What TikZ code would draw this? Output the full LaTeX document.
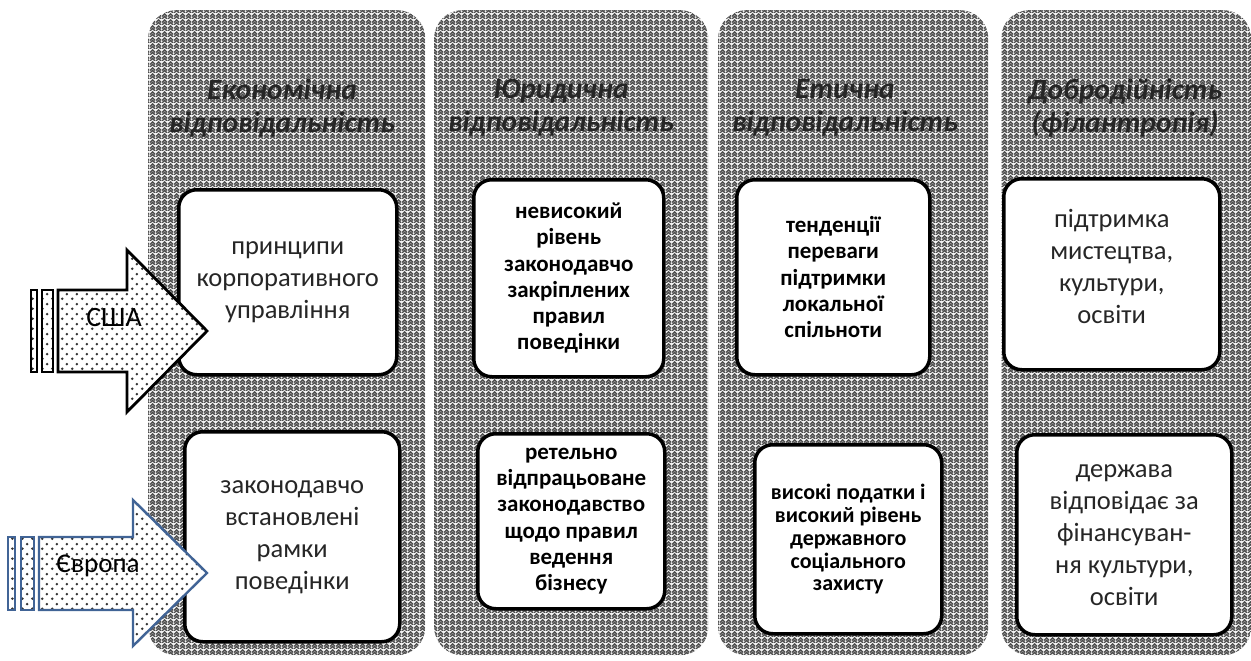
\documentclass[tikz,border=0pt]{standalone}
\usepackage{fontspec}
\setmainfont{Carlito}
\usetikzlibrary{patterns,shadows}
\pgfdeclarepatternformonly{herring}{\pgfpointorigin}{\pgfpoint{6pt}{6pt}}{\pgfpoint{6pt}{6pt}}{%
  \pgfsetlinewidth{1.5pt}%
  \pgfpathmoveto{\pgfpoint{0pt}{0pt}}\pgfpathlineto{\pgfpoint{3pt}{3pt}}\pgfpathlineto{\pgfpoint{6pt}{0pt}}%
  \pgfpathmoveto{\pgfpoint{0pt}{3pt}}\pgfpathlineto{\pgfpoint{3pt}{6pt}}\pgfpathlineto{\pgfpoint{6pt}{3pt}}%
  \pgfusepath{stroke}}
\pgfdeclarepatternformonly{sdots}{\pgfpointorigin}{\pgfpoint{10pt}{10pt}}{\pgfpoint{10pt}{10pt}}{%
  \pgfpathcircle{\pgfpoint{2.5pt}{2.5pt}}{1.5pt}%
  \pgfpathcircle{\pgfpoint{7.5pt}{7.5pt}}{1.5pt}%
  \pgfusepath{fill}}
\definecolor{eblue}{RGB}{65,100,150}
\tikzset{
  colbox/.style={anchor=north west, inner sep=0pt, rounded corners=28pt,
    preaction={fill=black!5}, pattern=herring, pattern color=black!70},
  card/.style={anchor=north west, draw, line width=3.5pt, rounded corners=18pt, fill=white,
    drop shadow={shadow xshift=1.5pt, shadow yshift=-1.5pt, fill=black!45},
    align=center, inner sep=0pt},
  plain/.style={font=\fontsize{26.5}{32}\selectfont, text=black!85, align=center},
  heavy/.style={font=\fontsize{23}{26.3}\selectfont\bfseries},
  head/.style={font=\fontsize{29.5}{33}\selectfont\bfseries\itshape, text=black!85, align=center},
  arrowfill/.style={preaction={fill=white}, pattern=sdots, pattern color=black!80},
  lbl/.style={font=\fontsize{28}{32}\selectfont}
}
\begin{document}
\begin{tikzpicture}[x=1pt,y=-1pt]
\useasboundingbox (0,0) rectangle (1251,661);
% columns
\node[colbox, minimum width=277pt, minimum height=645pt] (c1) at (148,10) {};
\node[colbox, minimum width=274pt, minimum height=645pt] (c2) at (434,10) {};
\node[colbox, minimum width=270pt, minimum height=645pt] (c3) at (718,10) {};
\node[colbox, minimum width=250pt, minimum height=645pt] (c4) at (1001,10) {};
% headers
\node[head] (h1) at (282,108) {Економічна\\відповідальність};
\node[head] (h2) at (561,108) {Юридична\\відповідальність};
\node[head] (h3) at (845,108) {Етична\\відповідальність};
\node[head] (h4) at (1125,108) {Добродійність\\(філантропія)};
% cards
\node[card, plain, minimum width=218pt, minimum height=185pt] (b1) at (177,188) {принципи\\корпоративного\\управління};
\node[card, plain, minimum width=215pt, minimum height=210pt] (b2) at (183,430) {законодавчо\\встановлені\\рамки\\поведінки};
\node[card, heavy, minimum width=190pt, minimum height=197pt] (b3) at (472,178) {невисокий\\рівень\\законодавчо\\закріплених\\правил\\поведінки};
\node[card, heavy, minimum width=187pt, minimum height=175pt] (b4) at (476,432) {ретельно\\відпрацьоване\\законодавство\\щодо правил\\ведення\\бізнесу};
\node[card, heavy, minimum width=193pt, minimum height=195pt] (b5) at (735,178) {тенденції\\переваги\\підтримки\\локальної\\спільноти};
\node[card, heavy, font=\fontsize{22}{22.8}\selectfont\bfseries, minimum width=187pt, minimum height=189pt] (b6) at (753,443) {високі податки і\\високий рівень\\державного\\соціального\\захисту};
\node[card, minimum width=216pt, minimum height=191pt] (b7) at (1002,177) {};
\node[plain] (t7) at ([yshift=8pt]b7.center) {підтримка\\мистецтва,\\культури,\\освіти};
\node[card, plain, minimum width=215pt, minimum height=200pt] (b8) at (1015,433) {держава\\відповідає за\\фінансуван-\\ня культури,\\освіти};
% USA arrow
\draw[arrowfill, line width=2.8pt, line join=miter] (58,290) -- (127,290) -- (127,250) -- (207,331) -- (127,412) -- (127,372) -- (58,372) -- cycle;
\draw[arrowfill, line width=2.5pt] (31,290) rectangle (37,372);
\draw[arrowfill, line width=2.5pt] (42,290) rectangle (53,372);
\node[lbl] (usa) at (114,318) {США};
% Europe arrow
\draw[arrowfill, draw=eblue, line width=2.4pt, line join=miter] (39,537) -- (133,537) -- (133,500) -- (207,573) -- (133,646) -- (133,610) -- (39,610) -- cycle;
\draw[arrowfill, draw=eblue, line width=2.2pt] (8,537) rectangle (15,610);
\draw[arrowfill, draw=eblue, line width=2.2pt] (21,537) rectangle (34,610);
\node[lbl, font=\fontsize{27}{32}\selectfont] (eu) at (98,566) {Європа};
\end{tikzpicture}
\end{document}
